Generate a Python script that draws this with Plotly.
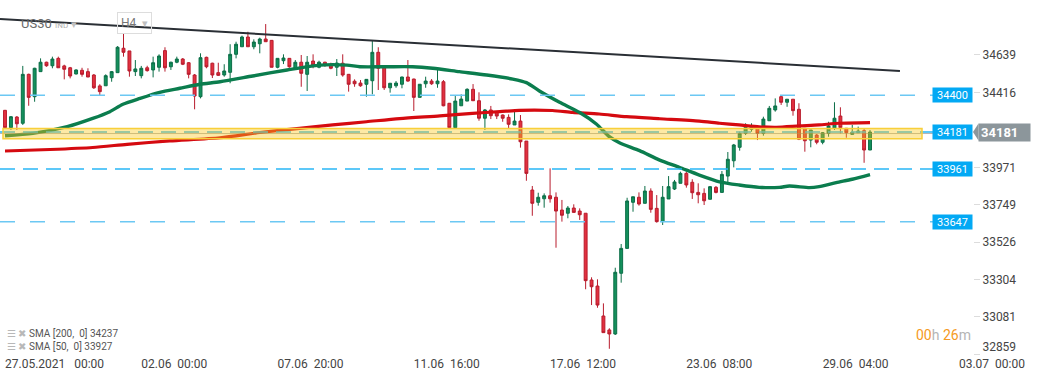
import plotly.graph_objects as go

# ---------------- data ----------------
opens = [34310, 34207, 34270, 34233, 34524, 34391, 34540, 34596, 34575, 34619,
         34574, 34563, 34526, 34548, 34540, 34520, 34455, 34456, 34504, 34534,
         34679, 34663, 34540, 34516, 34563, 34550, 34566, 34665, 34569, 34596,
         34615, 34593, 34520, 34391, 34625, 34590, 34534, 34520, 34536, 34643,
         34688, 34746, 34688, 34706, 34734, 34726, 34566, 34605, 34619, 34560,
         34596, 34524, 34603, 34566, 34596, 34579, 34566, 34590, 34524, 34483,
         34472, 34465, 34486, 34655, 34566, 34444, 34456, 34465, 34508, 34496,
         34387, 34468, 34484, 34468, 34480, 34352, 34207, 34337, 34365, 34435,
         34367, 34263, 34312, 34298, 34282, 34268, 34223, 34246, 34127, 33836,
         33763, 33784, 33802, 33793, 33717, 33698, 33729, 33711, 33698, 33301,
         33265, 33087, 33004, 32980, 33341, 33489, 33763, 33793, 33757, 33830,
         33727, 33648, 33783, 33842, 33876, 33935, 33882, 33822, 33816, 33781,
         33852, 33822, 33919, 34010, 34090, 34173, 34197, 34209, 34173, 34248,
         34312, 34391, 34358, 34376, 34316, 34203, 34133, 34163, 34120, 34173,
         34203, 34276, 34203, 34167, 34177, 34189, 34074]
highs = [34312, 34276, 34276, 34574, 34528, 34563, 34619, 34599, 34629, 34629,
         34581, 34568, 34554, 34563, 34560, 34526, 34465, 34524, 34544, 34692,
         34764, 34663, 34609, 34574, 34575, 34629, 34643, 34685, 34599, 34629,
         34621, 34597, 34526, 34649, 34629, 34593, 34593, 34584, 34703, 34718,
         34754, 34777, 34732, 34742, 34823, 34728, 34619, 34643, 34621, 34609,
         34639, 34633, 34643, 34605, 34599, 34593, 34615, 34643, 34526, 34494,
         34490, 34496, 34722, 34685, 34568, 34472, 34484, 34510, 34609, 34498,
         34466, 34510, 34496, 34560, 34490, 34353, 34395, 34405, 34441, 34466,
         34417, 34318, 34336, 34306, 34285, 34286, 34312, 34282, 34127, 33860,
         33820, 33816, 33965, 33822, 33777, 33741, 33751, 33727, 33698, 33317,
         33305, 33162, 33014, 33374, 33515, 33790, 33796, 33822, 33860, 33846,
         33806, 33860, 33919, 33896, 33945, 33945, 33900, 33876, 33846, 33860,
         33860, 33949, 34062, 34110, 34183, 34233, 34233, 34211, 34272, 34336,
         34381, 34397, 34376, 34377, 34352, 34205, 34193, 34169, 34181, 34242,
         34358, 34328, 34205, 34223, 34213, 34203, 34193]
lows = [34203, 34193, 34193, 34223, 34337, 34361, 34540, 34569, 34560, 34563,
        34494, 34500, 34524, 34510, 34508, 34437, 34401, 34456, 34480, 34534,
        34629, 34510, 34514, 34500, 34540, 34506, 34540, 34540, 34550, 34590,
        34579, 34500, 34316, 34381, 34560, 34502, 34514, 34510, 34471, 34619,
        34688, 34688, 34673, 34649, 34718, 34566, 34560, 34585, 34563, 34550,
        34450, 34425, 34560, 34560, 34569, 34554, 34514, 34510, 34421, 34450,
        34450, 34391, 34405, 34431, 34431, 34415, 34444, 34441, 34480, 34306,
        34387, 34444, 34461, 34444, 34334, 34199, 34207, 34337, 34365, 34367,
        34248, 34193, 34258, 34258, 34242, 34199, 34223, 34088, 33891, 33683,
        33743, 33731, 33761, 33493, 33648, 33668, 33703, 33658, 33246, 33152,
        33136, 32988, 32892, 32974, 33285, 33489, 33707, 33743, 33757, 33701,
        33642, 33628, 33783, 33836, 33876, 33850, 33783, 33757, 33747, 33781,
        33816, 33822, 33880, 33971, 34070, 34163, 34183, 34133, 34159, 34248,
        34302, 34342, 34331, 34278, 34133, 34064, 34090, 34108, 34108, 34153,
        34193, 34173, 34147, 34167, 34177, 33998, 34074]
closes = [34207, 34272, 34230, 34524, 34387, 34560, 34596, 34575, 34615, 34563,
          34554, 34514, 34550, 34524, 34508, 34444, 34421, 34516, 34540, 34685,
          34655, 34544, 34556, 34560, 34546, 34593, 34633, 34563, 34596, 34615,
          34584, 34524, 34395, 34623, 34569, 34520, 34518, 34544, 34643, 34703,
          34746, 34688, 34716, 34734, 34718, 34566, 34619, 34621, 34569, 34596,
          34530, 34596, 34579, 34596, 34579, 34560, 34591, 34520, 34465, 34468,
          34456, 34494, 34655, 34560, 34444, 34471, 34472, 34508, 34484, 34387,
          34465, 34484, 34468, 34484, 34337, 34207, 34365, 34377, 34435, 34367,
          34263, 34312, 34278, 34276, 34263, 34227, 34246, 34123, 33935, 33757,
          33793, 33802, 33784, 33711, 33686, 33729, 33703, 33689, 33297, 33261,
          33152, 32988, 32980, 33347, 33489, 33771, 33796, 33753, 33830, 33721,
          33648, 33793, 33856, 33884, 33935, 33866, 33820, 33808, 33772, 33856,
          33822, 33929, 34019, 34104, 34173, 34209, 34213, 34173, 34258, 34322,
          34336, 34358, 34376, 34308, 34138, 34129, 34193, 34120, 34177, 34217,
          34263, 34207, 34177, 34179, 34187, 34074, 34181]

# SMA lines sampled along the bar index
sma200_x = [0, 7.6, 14.8, 20.6, 27.8, 36.3, 43, 49.7, 55.3, 61, 66.6, 73.4, 78.9,
            83.5, 86.8, 92.4, 95.8, 100.3, 104.9, 110.5, 117.2, 120.6, 123.9,
            127.3, 130.2, 134.1, 137.4, 140.8, 146]
sma200_y = [34068, 34077, 34089, 34108, 34128, 34147, 34178, 34203, 34223, 34242,
            34261, 34277, 34292, 34302, 34310, 34309, 34298, 34288, 34272, 34260,
            34246, 34233, 34223, 34212, 34209, 34217, 34223, 34233, 34237]
sma50_x = [0, 4.7, 10.5, 14.8, 17.7, 19.9, 22.8, 26.1, 29.5, 32.9, 36.3, 41.8,
           47.6, 53.1, 57.7, 59.9, 64.4, 68.8, 72.2, 76.7, 81.3, 85.7, 88, 90.2,
           93.6, 97, 99.8, 102, 103.7, 107.1, 110.5, 113.8, 117.2, 120.6, 123.9,
           127.3, 130.7, 132.4, 135.8, 137.4, 140.3, 143, 146]
sma50_y = [34159, 34173, 34213, 34262, 34302, 34346, 34381, 34417, 34441, 34465,
           34480, 34514, 34550, 34579, 34579, 34569, 34569, 34569, 34560, 34540,
           34520, 34496, 34475, 34425, 34358, 34297, 34229, 34153, 34117, 34070,
           34014, 33971, 33925, 33885, 33866, 33852, 33852, 33860, 33850, 33856,
           33880, 33900, 33927]

trend_x = [-0.84, 151.05]
trend_y = [34853, 34544]

levels = [34400, 34181, 33961, 33647]
zone = [34141, 34202]
last_price = 34181
sma200_last = 34237
sma50_last = 33927

x_tickvals = [0, 23, 46, 69, 92, 115, 138, 161]
x_ticktext = ["27.05.2021\u00a0\u00a0 00:00", "02.06\u00a0 00:00", "07.06\u00a0 20:00",
              "11.06\u00a0 16:00", "17.06\u00a0 12:00", "23.06\u00a0 08:00",
              "29.06\u00a0 04:00", "03.07\u00a0 00:00"]
y_tickvals = [34639, 34416, 33971, 33749, 33526, 33304, 33081, 32859]

# ---------------- figure ----------------
idx = list(range(len(opens)))
fig = go.Figure()
fig.add_trace(go.Candlestick(
    x=idx, open=opens, high=highs, low=lows, close=closes,
    increasing=dict(line=dict(color="#0b6e47", width=1), fillcolor="#14905c"),
    decreasing=dict(line=dict(color="#b81c2d", width=1), fillcolor="#e2303f"),
    whiskerwidth=0, hoverinfo="skip", showlegend=False))
fig.add_trace(go.Scatter(x=sma200_x, y=sma200_y, mode="lines",
                         line=dict(color="#d50a10", width=3.2, shape="spline", smoothing=0.7),
                         hoverinfo="skip", showlegend=False))
fig.add_trace(go.Scatter(x=sma50_x, y=sma50_y, mode="lines",
                         line=dict(color="#0b7d4e", width=3.4, shape="spline", smoothing=0.7),
                         hoverinfo="skip", showlegend=False))
fig.add_trace(go.Scatter(x=trend_x, y=trend_y, mode="lines",
                         line=dict(color="#2a2f35", width=2),
                         hoverinfo="skip", showlegend=False))

PW = 973.0  # plot width in px
shapes = []
for lv in levels:
    if lv in (last_price, 33961):
        dash, col = "15px,8px", "#29b6f6"
    else:
        dash, col = "15px,15px", "#6cc8f3"
    shapes.append(dict(type="line", xref="paper", yref="y", x0=0, x1=934 / PW,
                       y0=lv, y1=lv, line=dict(color=col, width=1.5, dash=dash), layer="above"))
# thin gray price line inside zone
shapes.append(dict(type="line", xref="paper", yref="y", x0=0, x1=934 / PW,
                   y0=34172, y1=34172, line=dict(color="rgba(120,120,120,0.55)", width=1),
                   layer="above"))
# yellow zone
shapes.append(dict(type="rect", xref="paper", yref="y", x0=3 / PW, x1=922 / PW,
                   y0=zone[0], y1=zone[1], fillcolor="rgba(251,200,30,0.40)",
                   line=dict(color="#f8cf3a", width=1.5), layer="above"))
# notch of current price label
px_units = (34966 - 32855) / 355.0
shapes.append(dict(type="path", xref="paper", yref="y",
                   path=f"M {973/PW} {last_price} L {978.5/PW} {last_price + 8.5*px_units} "
                        f"L {978.5/PW} {last_price - 8.5*px_units} Z",
                   fillcolor="#8c969b", line=dict(width=0), layer="above"))

ann = []
for lv in levels:
    ann.append(dict(xref="paper", yref="y", x=1, y=lv, xanchor="right", yanchor="middle",
                    text=str(lv), showarrow=False, bgcolor="#03a9f4",
                    font=dict(color="white", size=11, family="Roboto"),
                    width=35, height=10, borderpad=2))
ann.append(dict(xref="paper", yref="y", x=978 / PW, y=last_price, xanchor="left",
                yanchor="middle", text=f"<b>{last_price}</b>", showarrow=False,
                bgcolor="#8c969b", font=dict(color="white", size=13, family="Roboto"),
                width=47, height=13, borderpad=2, align="left"))
ann.append(dict(xref="paper", yref="paper", x=973 / PW, y=1 - 335 / 355.0,
                xanchor="right", yanchor="middle", showarrow=False,
                text="<span style='color:#f59a23'>00</span>h <span style='color:#f59a23'>26</span>m",
                font=dict(color="#b5b5b5", size=14, family="Roboto")))
legend_rows = [(333, f"SMA [200,\u00a0 0] {sma200_last}"), (346.5, f"SMA [50,\u00a0 0] {sma50_last}")]
for ypx, txt in legend_rows:
    ann.append(dict(xref="paper", yref="paper", x=5 / PW, y=1 - ypx / 355.0,
                    xanchor="left", yanchor="middle", showarrow=False,
                    text=f"<span style='color:#b8b8b8'>\u2630 \u2716</span> {txt}",
                    font=dict(color="#555", size=10, family="Roboto")))
ann.append(dict(xref="paper", yref="paper", x=19 / PW, y=1 - 23 / 355.0, xanchor="left",
                yanchor="middle", showarrow=False,
                text="US30 <span style='font-size:8px;color:#b0b0b0'>IND</span> "
                     "<span style='color:#c0c0c0;font-size:11px'>\u25be</span>",
                font=dict(color="#6a6a6a", size=13, family="Roboto")))
ann.append(dict(xref="paper", yref="paper", x=117 / PW, y=1 - 22.5 / 355.0, xanchor="left",
                yanchor="middle", showarrow=False,
                text="H4 \u00a0<span style='color:#c0c0c0;font-size:11px'>\u25be</span>",
                font=dict(color="#777", size=12, family="Roboto"),
                bordercolor="#dddddd", borderwidth=1, borderpad=3))

y_ticktext = [str(v) for v in y_tickvals]
y_ticktext[-1] = y_ticktext[-1] + "<br> "   # lift the bottom label like the reference

fig.update_layout(
    width=1041, height=380, autosize=False,
    margin=dict(l=0, r=68, t=0, b=25),
    paper_bgcolor="white", plot_bgcolor="white", showlegend=False,
    font=dict(family="Roboto", color="#444"),
    xaxis=dict(range=[-0.844, 163.38], tickvals=x_tickvals, ticktext=x_ticktext,
               showgrid=False, zeroline=False, showline=False, ticks="",
               ticklabelposition="outside right",
               tickfont=dict(size=12, color="#444"), rangeslider=dict(visible=False)),
    yaxis=dict(side="right", range=[32855, 34966], tickvals=y_tickvals,
               ticktext=y_ticktext, ticks="outside", ticklen=6,
               tickcolor="#dcdcdc", showgrid=False, zeroline=False, showline=False,
               tickfont=dict(size=12, color="#444")),
    shapes=shapes, annotations=ann,
)
fig.write_html("out.html", config={"displayModeBar": False},
               post_script="document.body.style.margin='0';document.body.style.overflow='hidden';")
